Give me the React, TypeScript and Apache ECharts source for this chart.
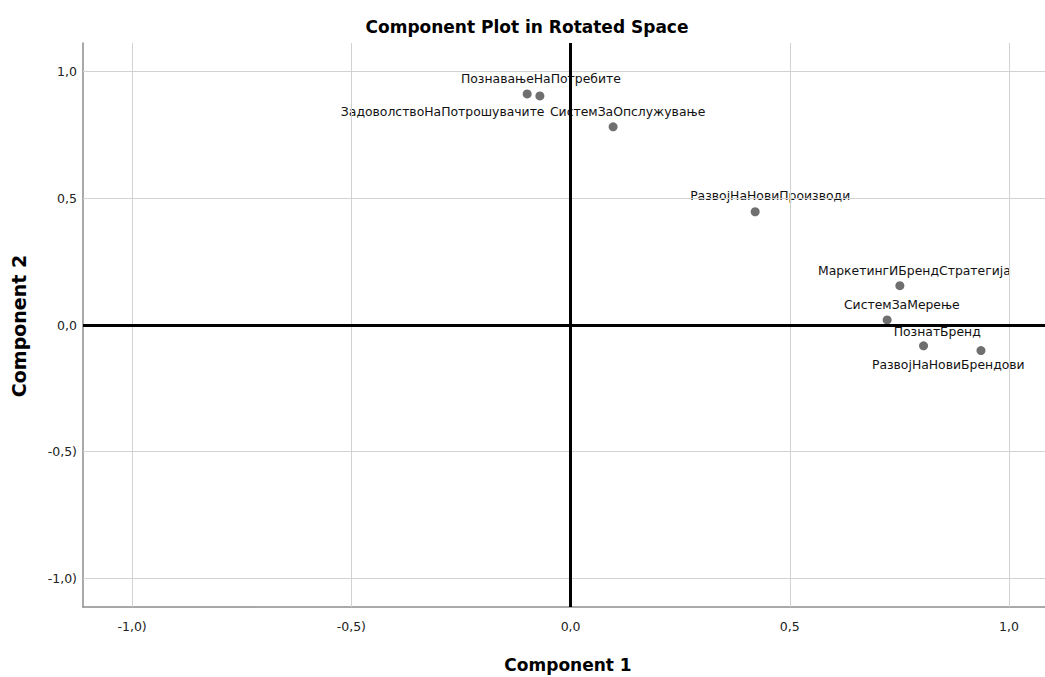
import React, { useEffect, useRef } from "react";
import * as echarts from "echarts";

const variableNames = [
  "ЗадоволствоНаПотрошувачите",
  "ПознавањеНаПотребите",
  "СистемЗаОпслужување",
  "РазвојНаНовиПроизводи",
  "МаркетингИБрендСтратегија",
  "СистемЗаМерење",
  "ПознатБренд",
  "РазвојНаНовиБрендови",
];
const component1 = [-0.099, -0.07, 0.097, 0.421, 0.751, 0.722, 0.805, 0.936];
const component2 = [0.912, 0.904, 0.782, 0.447, 0.155, 0.02, -0.082, -0.101];

const tickValues = [-1, -0.5, 0, 0.5, 1];
const xTickLabels = ["-1,0)", "-0,5)", "0,0", "0,5", "1,0"];
const yTickLabels = ["-1,0)", "-0,5)", "0,0", "0,5", "1,0"];

// label placement (dx, dy of label centre from the point), as in the reference
const labelOffsets: [number, number][] = [
  [-84.5, 17.7],
  [1, -17.7],
  [14.5, -15.5],
  [15, -16.5],
  [14.5, -15.7],
  [14.7, -15],
  [13.7, -14.7],
  [-32.7, 14.3],
];

const FONT = "'DejaVu Sans', sans-serif";

function tickFormatter(labels: string[]) {
  return (v: number) => {
    let best = 0;
    for (let i = 0; i < tickValues.length; i++) {
      if (Math.abs(tickValues[i] - v) < Math.abs(tickValues[best] - v)) best = i;
    }
    return labels[best];
  };
}

export default function App() {
  const ref = useRef<HTMLDivElement>(null);
  useEffect(() => {
    if (!ref.current) return;
    const chart = echarts.init(ref.current, undefined, { renderer: "svg" });
    const points = variableNames.map((n, i) => ({
      name: n,
      value: [component1[i], component2[i]],
    }));
    const gridLineData = [
      ...tickValues.filter((v) => v !== 0).map((v) => ({ xAxis: v })),
      ...tickValues.filter((v) => v !== 0).map((v) => ({ yAxis: v })),
    ];
    chart.setOption({
      animation: false,
      backgroundColor: "#ffffff",
      grid: { left: 83, top: 43, right: 0, bottom: 70, containLabel: false },
      xAxis: {
        type: "value",
        min: -1.112,
        max: 1.082,
        axisLine: { show: true, onZero: false, lineStyle: { color: "#8c8c8c", width: 1.5 } },
        axisTick: { show: false },
        splitLine: { show: false },
        axisLabel: {
          customValues: tickValues,
          formatter: tickFormatter(xTickLabels),
          color: "#222",
          fontSize: 12.5,
          fontFamily: FONT,
          margin: 13,
        },
      },
      yAxis: {
        type: "value",
        min: -1.113,
        max: 1.113,
        axisLine: { show: true, onZero: false, lineStyle: { color: "#8c8c8c", width: 1.5 } },
        axisTick: { show: false },
        splitLine: { show: false },
        axisLabel: {
          customValues: tickValues,
          formatter: tickFormatter(yTickLabels),
          color: "#222",
          fontSize: 12.5,
          fontFamily: FONT,
          margin: 6,
        },
      },
      graphic: [
        {
          type: "text",
          x: 527,
          y: 27,
          style: {
            text: "Component Plot in Rotated Space",
            font: "bold 17px " + FONT,
            fill: "#000",
            textAlign: "center",
            textVerticalAlign: "middle",
          },
        },
        {
          type: "text",
          x: 568,
          y: 665,
          style: {
            text: "Component 1",
            font: "bold 17px " + FONT,
            fill: "#000",
            textAlign: "center",
            textVerticalAlign: "middle",
          },
        },
        {
          type: "text",
          x: 19,
          y: 326,
          rotation: Math.PI / 2,
          style: {
            text: "Component 2",
            font: "bold 19px " + FONT,
            fill: "#000",
            textAlign: "center",
            textVerticalAlign: "middle",
          },
        },
      ],
      series: [
        {
          type: "scatter",
          data: [],
          z: 1,
          silent: true,
          markLine: {
            silent: true,
            symbol: ["none", "none"],
            label: { show: false },
            lineStyle: { color: "#d2d2d2", width: 1, type: "solid" },
            emphasis: { disabled: true },
            data: gridLineData,
          },
        },
        {
          type: "scatter",
          z: 3,
          symbolSize: 9,
          itemStyle: { color: "#6f6f6f", opacity: 1 },
          label: {
            show: true,
            position: "inside",
            formatter: "{b}",
            color: "#111",
            fontSize: 12.4,
            fontFamily: FONT,
            align: "center",
            verticalAlign: "middle",
          },
          labelLayout: (p: any) => {
            const o = labelOffsets[p.dataIndex] || [0, 0];
            return { dx: o[0], dy: o[1], hideOverlap: false };
          },
          data: points,
        },
        {
          type: "scatter",
          data: [],
          z: 10,
          silent: true,
          markLine: {
            silent: true,
            z: 10,
            symbol: ["none", "none"],
            label: { show: false },
            lineStyle: { color: "#000", width: 3, type: "solid" },
            emphasis: { disabled: true },
            data: [{ xAxis: 0 }, { yAxis: 0 }],
          },
        },
      ],
    });
    return () => chart.dispose();
  }, []);
  return (
    <div
      ref={ref}
      style={{ position: "fixed", left: 0, top: 0, width: 1045, height: 677 }}
    />
  );
}
